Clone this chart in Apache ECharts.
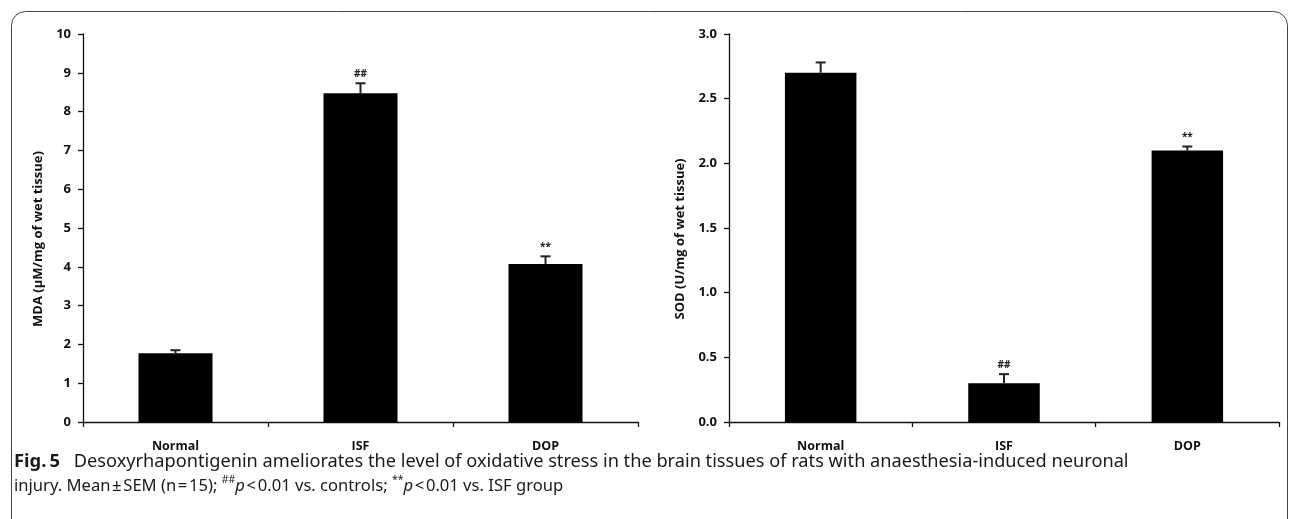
<!DOCTYPE html>
<html><head><meta charset="utf-8">
<script src="https://cdn.jsdelivr.net/npm/echarts@6/dist/echarts.min.js"></script>
<style>html,body{margin:0;padding:0;background:#fff}#c{width:1293px;height:519px}</style>
</head><body><div id="c"></div>
<script>
const categories = ['Normal', 'ISF', 'DOP'];
const mdaMean = [1.77, 8.47, 4.07];
const mdaSem = [0.08, 0.26, 0.20];
const mdaMarks = ['', '##', '**'];
const sodMean = [2.70, 0.30, 2.10];
const sodSem = [0.08, 0.07, 0.03];
const sodMarks = ['', '##', '**'];
const mdaTicks = [0, 1, 2, 3, 4, 5, 6, 7, 8, 9, 10];
const sodTicks = [0, 0.5, 1.0, 1.5, 2.0, 2.5, 3.0];

const chart = echarts.init(document.getElementById('c'), null, {renderer: 'canvas'});
const tickFont = {fontFamily: 'Open Sans', fontWeight: 'bold', fontSize: 13, color: '#111'};

function errSeries(idx, mean, sem, marks) {
  return {
    type: 'custom', xAxisIndex: idx, yAxisIndex: idx, z: 5,
    data: mean.map((m, i) => [i, m, m + sem[i]]),
    renderItem: function (params, api) {
      const base = api.coord([api.value(0), api.value(1)]);
      const top = api.coord([api.value(0), api.value(2)]);
      const children = [
        {type: 'line', shape: {x1: base[0], y1: base[1], x2: top[0], y2: top[1]}, style: {stroke: '#222', lineWidth: 2}},
        {type: 'line', shape: {x1: top[0] - 5, y1: top[1], x2: top[0] + 5, y2: top[1]}, style: {stroke: '#222', lineWidth: 2}}
      ];
      const label = marks[params.dataIndex];
      if (label) {
        children.push({type: 'text', style: {text: label, x: top[0], y: top[1] - 4, align: 'center', verticalAlign: 'bottom',
          font: 'bold 10px "Open Sans"', fill: '#222'}});
      }
      return {type: 'group', children: children};
    }
  };
}

function yAxis(idx, ticks, name, fmt, gap) {
  return {
    type: 'value', gridIndex: idx, min: ticks[0], max: ticks[ticks.length - 1],
    interval: ticks[1] - ticks[0],
    name: name, nameLocation: 'middle', nameGap: gap, nameRotate: 90,
    nameTextStyle: {fontFamily: 'Open Sans', fontWeight: 'bold', fontSize: 13, color: '#111', padding: [0, 22, 0, 0]},
    axisLine: {show: true, lineStyle: {color: '#111', width: 1.3}},
    axisTick: {show: true, length: 5, lineStyle: {color: '#111', width: 1.3}},
    axisLabel: Object.assign({margin: 12, formatter: fmt}, tickFont),
    splitLine: {show: false}
  };
}
function xAxis(idx) {
  return {
    type: 'category', gridIndex: idx, data: categories, boundaryGap: true,
    axisLine: {lineStyle: {color: '#111', width: 1.3}},
    axisTick: {show: true, length: 5, lineStyle: {color: '#111', width: 1.3}},
    axisLabel: Object.assign({margin: 18}, tickFont, {fontSize: 12.5})
  };
}

const option = {
  animation: false,
  backgroundColor: '#fff',
  grid: [
    {left: 83, top: 34, width: 555, height: 388},
    {left: 729, top: 34, width: 550, height: 388}
  ],
  xAxis: [xAxis(0), xAxis(1)],
  yAxis: [
    yAxis(0, mdaTicks, 'MDA (μM/mg of wet tissue)', v => String(v), 38),
    yAxis(1, sodTicks, 'SOD (U/mg of wet tissue)', v => v.toFixed(1), 42)
  ],
  series: [
    {type: 'bar', xAxisIndex: 0, yAxisIndex: 0, data: mdaMean, barWidth: '40%', itemStyle: {color: '#000'}},
    errSeries(0, mdaMean, mdaSem, mdaMarks),
    {type: 'bar', xAxisIndex: 1, yAxisIndex: 1, data: sodMean, barWidth: '39%', itemStyle: {color: '#000'}},
    errSeries(1, sodMean, sodSem, sodMarks)
  ],
  graphic: [
    {type: 'rect', shape: {x: 11.5, y: 11.5, width: 1276, height: 530, r: 14}, style: {fill: 'none', stroke: '#444', lineWidth: 1}, z: 0},
    {type: 'text', x: 14, y: 462, style: {
      text: '{b|Fig.\u20095}{n|\u2002 Desoxyrhapontigenin ameliorates the level of oxidative stress in the brain tissues of rats with anaesthesia-induced neuronal}',
      verticalAlign: 'middle',
      rich: {
        b: {font: 'bold 18.4px "Noto Sans"', fill: '#1a1a1a'},
        n: {font: '18.2px "Noto Sans"', fill: '#1a1a1a'}
      }}},
    {type: 'text', x: 14, y: 486, style: {
      text: '{n|injury. Mean\u200a±\u200aSEM (n\u200a=\u200a15); }{s|##}{i|p}{n|\u200a<\u200a0.01 vs. controls; }{s|**}{i|p}{n|\u200a<\u200a0.01 vs. ISF group}',
      verticalAlign: 'middle',
      rich: {
        n: {font: '16.6px "Noto Sans"', fill: '#1a1a1a', lineHeight: 22},
        i: {font: 'italic 16.6px "Noto Sans"', fill: '#1a1a1a', lineHeight: 22},
        s: {font: '10.5px "Noto Sans"', fill: '#1a1a1a', verticalAlign: 'top', lineHeight: 22}
      }}}
  ]
};
chart.setOption(option);
</script></body></html>
